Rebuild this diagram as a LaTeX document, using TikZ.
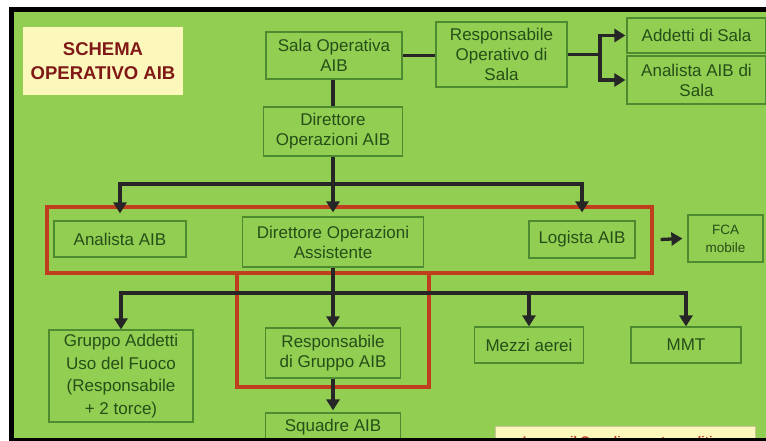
\documentclass[tikz,border=0pt]{standalone}
\usepackage{fontspec}
\setmainfont{Liberation Sans}
\usetikzlibrary{arrows.meta}
\definecolor{slidegreen}{RGB}{146,206,82}
\definecolor{boxline}{RGB}{78,138,48}
\definecolor{boxtext}{RGB}{38,78,24}
\definecolor{framered}{RGB}{192,62,30}
\definecolor{titlered}{RGB}{128,24,22}
\definecolor{notebg}{RGB}{252,248,188}
\tikzset{
	box/.style={draw=boxline, line width=1.2pt, fill=slidegreen, text=boxtext, align=center, inner sep=0pt, font=\fontsize{17}{20}\selectfont},
	link/.style={line width=3.3pt, draw=black!85},
	arrow/.style={link, -{Triangle[width=13pt,length=11pt]}},
	redframe/.style={line width=3.2pt, draw=framered},
}

\begin{document}
\begin{tikzpicture}[x=1pt, y=-1pt]
		%%%%% START %%%%%
		\useasboundingbox (0, 0) rectangle (766, 441);
		\clip (0, 0) rectangle (766, 441);
		
		\fill[white] (0, 0) rectangle (766, 441);
		\fill[black] (9, 7) rectangle (766, 441);
		\fill[slidegreen] (14, 12) rectangle (766, 438);
		
		\node[fill=notebg, text=titlered, align=center, minimum width=160pt, minimum height=68pt, font=\bfseries\fontsize{18.5}{24}\selectfont] (titolo) at (103, 61) {SCHEMA\\OPERATIVO AIB};
		
		% sala operativa
		\node[box, minimum width=136pt, minimum height=47pt] (sala) at (334, 55.5) {Sala Operativa\\AIB};
		\node[box, minimum width=131pt, minimum height=65pt] (respsala) at (501.5, 54.5) {Responsabile\\Operativo di\\Sala};
		\node[box, minimum width=139pt, minimum height=35pt] (addetti) at (696.5, 35.5) {Addetti di Sala};
		\node[box, minimum width=139pt, minimum height=48pt] (analistasala) at (696.5, 80) {Analista AIB di\\Sala};
		\node[box, minimum width=139pt, minimum height=49pt] (direttore) at (333, 131.5) {Direttore\\Operazioni AIB};
		
		\coordinate (split) at (600, 54.5);
		\draw[link] (sala.east) -- (sala.east -| respsala.west);
		\draw[link] (respsala.east) -- (split);
		\draw[arrow] (split) |- ([xshift=-1pt]addetti.west);
		\draw[arrow] (split) |- ([xshift=-1pt]analistasala.west);
		\draw[link] (sala.south -| direttore) -- (direttore.north);
		
		% gruppo di comando
		\draw[redframe] (47, 207) rectangle (652, 273);
		\draw[redframe] (237, 273) rectangle (429, 387);
		
		\node[box, minimum width=132pt, minimum height=36pt] (analista) at (120, 239) {Analista AIB};
		\node[box, minimum width=181pt, minimum height=50pt] (dirassist) at (333, 242) {Direttore Operazioni\\Assistente};
		\node[box, minimum width=106pt, minimum height=37pt] (logista) at (582, 239.5) {Logista AIB};
		\node[box, minimum width=75pt, minimum height=47pt, font=\fontsize{13.5}{18}\selectfont] (fca) at (725.5, 238.5) {FCA\\mobile};
		
		\coordinate (bar1) at (333, 184);
		\draw[link] (direttore.south) -- (bar1);
		\draw[arrow] (bar1) -| ([yshift=7pt]analista.north);
		\draw[arrow] (bar1) -| ([yshift=8pt]logista.north);
		\draw[arrow] (bar1) -- ([yshift=4pt]dirassist.north);
		\draw[arrow] ([xshift=25pt]logista.east) -- ([xshift=-5pt]fca.west);
		
		% risorse
		\node[box, minimum width=144pt, minimum height=92pt, font=\fontsize{17}{22.5}\selectfont] (gruppo) at (121, 376) {Gruppo Addetti\\Uso del Fuoco\\(Responsabile\\+ 2 torce)};
		\node[box, minimum width=135pt, minimum height=50pt] (respgruppo) at (333, 353) {Responsabile\\di Gruppo AIB};
		\node[box, minimum width=135pt, minimum height=28pt] (squadre) at (333, 427) {Squadre AIB};
		\node[box, minimum width=109pt, minimum height=36pt] (mezzi) at (529, 345) {Mezzi aerei};
		\node[box, minimum width=110pt, minimum height=36pt] (mmt) at (686, 345) {MMT};
		
		\coordinate (bar2) at (333, 293);
		\draw[link] (dirassist.south) -- (bar2);
		\draw[arrow] (bar2) -| (gruppo.north);
		\draw[arrow] (bar2) -| (mmt.north);
		\draw[arrow] (bar2 -| mezzi) -- (mezzi.north);
		\draw[arrow] (bar2) -- (respgruppo.north);
		\draw[arrow] (respgruppo.south) -- ([yshift=2pt]squadre.north);
		
		% nota in basso
		\draw[fill=notebg, draw=notebg!80!black] (495, 426) rectangle (755, 460);
		\node[anchor=base, text=framered, font=\bfseries\fontsize{12.5}{15}\selectfont] (nota) at (625, 445) {In capo il Coordinamento analitico};
		
		\fill[black] (9, 438) rectangle (766, 441);
		%%%%% END %%%%%
\end{tikzpicture}
\end{document}
